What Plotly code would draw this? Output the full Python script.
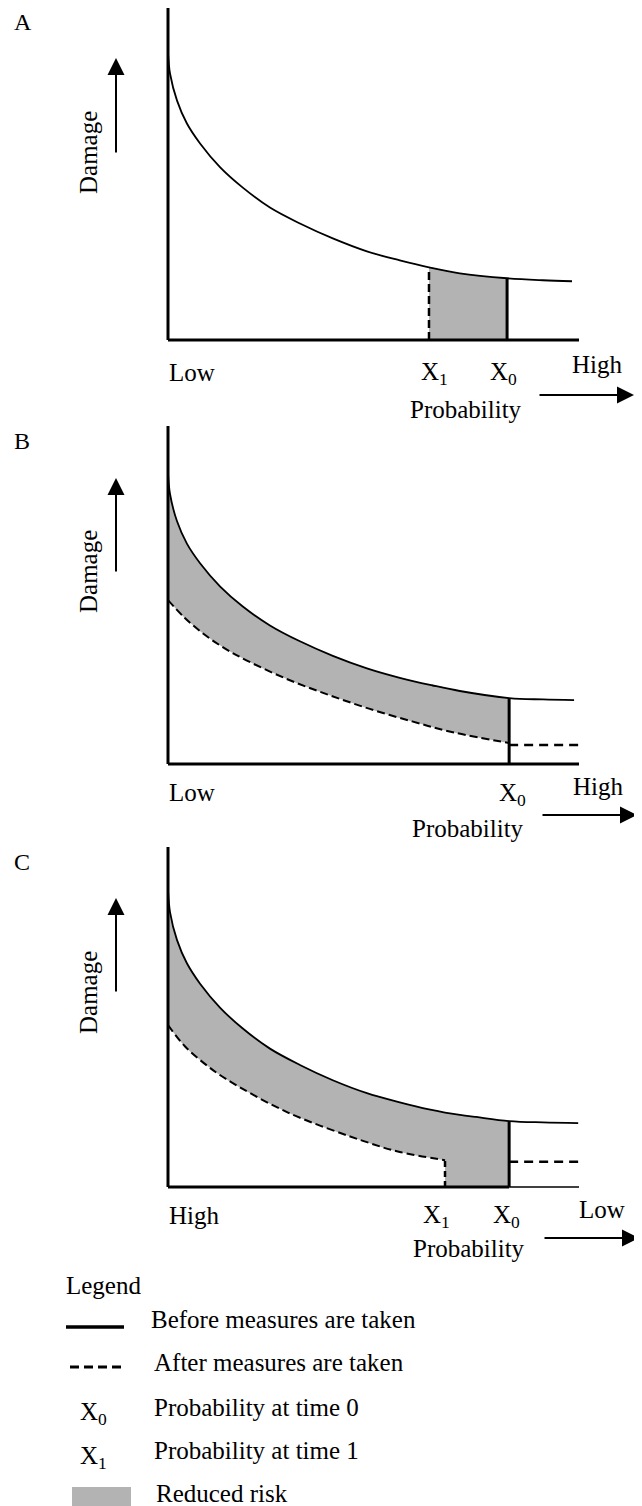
import plotly.graph_objects as go

# page body has an 8px margin, so the figure is drawn 8px smaller and shifted
OFF = 8
W, H = 642 - OFF, 1506 - OFF
FONT = "Liberation Serif"
FS = 25
GRAY = "#b3b3b3"

# ---------------- data (schematic units: x 0..100, y 0..100) ----------------
# Panel A
a_x = [0, 0.5, 2.2, 4.6, 7.8, 12.7, 18.2, 24.8, 32.1, 40.1, 48.4, 56.4, 63.5, 71.0, 82.5, 91.2, 98.3]
a_before = [86.5, 80.2, 72.1, 65.2, 59.2, 52.0, 45.9, 39.9, 35.1, 30.6, 26.7, 24.0, 21.9, 20.1, 18.6, 18.0, 17.7]
a_x1 = 63.5
a_x0 = 82.5

# Panel B
b_before_x = [0, 0.5, 2.2, 4.6, 7.8, 12.7, 18.2, 24.8, 32.1, 40.1, 48.4, 56.4, 64.2, 71.0, 83.0, 91.2, 98.8]
b_before = [86.1, 79.8, 71.8, 65.2, 59.4, 52.5, 46.6, 41.0, 36.3, 32.0, 28.3, 25.5, 23.3, 21.6, 19.5, 19.1, 18.9]
b_after_x = [0, 4.1, 9.2, 14.1, 19.2, 29.2, 39.2, 49.1, 59.4, 69.3, 83.0]
b_after = [48.5, 43.2, 38.0, 34.0, 30.6, 25.0, 20.4, 16.3, 12.6, 9.4, 6.2]
b_x0 = 83.0
b_after_tail_x = [83.0, 99.8]
b_after_tail = [5.6, 5.6]

# Panel C
c_before_x = [0, 0.5, 2.2, 4.6, 7.8, 12.7, 18.2, 24.8, 32.1, 40.1, 48.4, 56.4, 63.5, 67.4, 75.0, 83.0, 91.2, 99.8]
c_before = [87.4, 80.8, 72.6, 65.8, 59.8, 52.7, 46.6, 40.7, 35.9, 31.4, 27.6, 24.9, 22.8, 21.9, 20.6, 19.4, 19.0, 18.8]
c_after_x = [0, 4.1, 9.2, 14.1, 29.2, 49.1, 56.4, 67.4]
c_after = [47.6, 41.4, 36.0, 31.8, 21.9, 12.9, 10.3, 7.9]
c_x1 = 67.4
c_x0 = 83.0
c_after_tail_x = [83.0, 99.8]
c_after_tail = [7.4, 7.4]

# axis end labels
a_labels = ["Low", "High"]
b_labels = ["Low", "High"]
c_labels = ["High", "Low"]


def pxx(x):
    return (x - OFF) / W


def pxy(y):
    return 1 - (y - OFF) / H


def val_at(xs, ys, xv):
    return ys[xs.index(xv)]


fig = go.Figure()

X_DOM = [pxx(168), pxx(579)]
Y_DOMS = {
    1: [pxy(340), pxy(7)],
    2: [pxy(764), pxy(426)],
    3: [pxy(1187), pxy(847)],
}

for i in (1, 2, 3):
    sfx = "" if i == 1 else str(i)
    fig.update_layout(**{
        "xaxis" + sfx: dict(domain=X_DOM, range=[0, 100], showgrid=False, zeroline=False,
                            showticklabels=False, ticks="", showline=False,
                            anchor="y" + sfx, fixedrange=True),
        "yaxis" + sfx: dict(domain=[max(0, Y_DOMS[i][0]), min(1, Y_DOMS[i][1])],
                            range=[0, 100], showgrid=False, zeroline=False,
                            showticklabels=False, ticks="", showline=False,
                            anchor="x" + sfx, fixedrange=True),
    })

SOLID = dict(color="black", width=1.8, shape="spline")
DASHC = dict(color="black", width=2, dash="8px,4px", shape="spline")


def add(tr, i):
    sfx = "" if i == 1 else str(i)
    tr.update(xaxis="x" + sfx, yaxis="y" + sfx, showlegend=False, hoverinfo="skip")
    fig.add_trace(tr)


# ---------------- Panel A ----------------
sel = [k for k, x in enumerate(a_x) if a_x1 <= x <= a_x0]
add(go.Scatter(x=[a_x[k] for k in sel], y=[a_before[k] for k in sel], mode="lines",
               line=dict(width=0, shape="spline"), fill="tozeroy", fillcolor=GRAY), 1)
add(go.Scatter(x=a_x, y=a_before, mode="lines", line=SOLID), 1)
add(go.Scatter(x=[a_x1, a_x1], y=[0, val_at(a_x, a_before, a_x1)], mode="lines",
               line=dict(color="black", width=2.5, dash="8px,4px")), 1)
add(go.Scatter(x=[a_x0, a_x0], y=[0, val_at(a_x, a_before, a_x0)], mode="lines",
               line=dict(color="black", width=3)), 1)

# ---------------- Panel B ----------------
sel_u = [k for k, x in enumerate(b_before_x) if x <= b_x0]
add(go.Scatter(x=[b_before_x[k] for k in sel_u], y=[b_before[k] for k in sel_u], mode="lines",
               line=dict(width=0, shape="spline")), 2)
add(go.Scatter(x=b_after_x, y=b_after, mode="lines", line=dict(width=0, shape="spline"),
               fill="tonexty", fillcolor=GRAY), 2)
add(go.Scatter(x=b_before_x, y=b_before, mode="lines", line=SOLID), 2)
add(go.Scatter(x=b_after_x, y=b_after, mode="lines", line=DASHC), 2)
add(go.Scatter(x=b_after_tail_x, y=b_after_tail, mode="lines",
               line=dict(color="black", width=2.5, dash="9px,6px")), 2)
add(go.Scatter(x=[b_x0, b_x0], y=[0, val_at(b_before_x, b_before, b_x0)], mode="lines",
               line=dict(color="black", width=3)), 2)

# ---------------- Panel C ----------------
sel_u = [k for k, x in enumerate(c_before_x) if x <= c_x1]
add(go.Scatter(x=[c_before_x[k] for k in sel_u], y=[c_before[k] for k in sel_u], mode="lines",
               line=dict(width=0, shape="spline")), 3)
add(go.Scatter(x=c_after_x, y=c_after, mode="lines", line=dict(width=0, shape="spline"),
               fill="tonexty", fillcolor=GRAY), 3)
sel2 = [k for k, x in enumerate(c_before_x) if c_x1 <= x <= c_x0]
add(go.Scatter(x=[c_before_x[k] for k in sel2], y=[c_before[k] for k in sel2], mode="lines",
               line=dict(width=0, shape="spline"), fill="tozeroy", fillcolor=GRAY), 3)
add(go.Scatter(x=c_before_x, y=c_before, mode="lines", line=SOLID), 3)
add(go.Scatter(x=c_after_x, y=c_after, mode="lines", line=DASHC), 3)
add(go.Scatter(x=[c_x1, c_x1], y=[0, val_at(c_after_x, c_after, c_x1)], mode="lines",
               line=dict(color="black", width=2.5, dash="6px,4px")), 3)
add(go.Scatter(x=c_after_tail_x, y=c_after_tail, mode="lines",
               line=dict(color="black", width=2.5, dash="9px,6px")), 3)
add(go.Scatter(x=[c_x0, c_x0], y=[0, val_at(c_before_x, c_before, c_x0)], mode="lines",
               line=dict(color="black", width=3)), 3)

# ---------------- axis lines (shapes) ----------------
shapes = []
for i in (1, 2, 3):
    sfx = "" if i == 1 else str(i)
    shapes.append(dict(type="line", xref="x%s domain" % sfx, yref="y%s domain" % sfx,
                       x0=0, x1=0, y0=0, y1=1, line=dict(color="black", width=3)))
    if i < 3:
        shapes.append(dict(type="line", xref="x%s domain" % sfx, yref="y%s domain" % sfx,
                           x0=0, x1=1, y0=0, y1=0, line=dict(color="black", width=3)))
shapes.append(dict(type="line", xref="x3", yref="y3 domain", x0=0, x1=c_x0, y0=0, y1=0,
                   line=dict(color="black", width=3)))
shapes.append(dict(type="line", xref="x3", yref="y3 domain", x0=c_x0, x1=100, y0=0, y1=0,
                   line=dict(color="black", width=1.5)))

# legend samples
shapes.append(dict(type="line", xref="paper", yref="paper", x0=pxx(66), x1=pxx(124),
                   y0=pxy(1327), y1=pxy(1327), line=dict(color="black", width=3.5)))
shapes.append(dict(type="line", xref="paper", yref="paper", x0=pxx(70), x1=pxx(124),
                   y0=pxy(1367), y1=pxy(1367), line=dict(color="black", width=3, dash="9px,5px")))
shapes.append(dict(type="rect", xref="paper", yref="paper", x0=pxx(72), x1=pxx(131),
                   y0=0, y1=pxy(1487), fillcolor=GRAY, line=dict(width=0)))

# ---------------- text ----------------
ann = []


def txt(s, x, y, xa="center", ya="middle", size=FS, angle=0):
    ann.append(dict(text=s, x=pxx(x), y=pxy(y), xref="paper", yref="paper",
                    xanchor=xa, yanchor=ya, showarrow=False, textangle=angle,
                    font=dict(family=FONT, size=size, color="black")))


def arrow(hx, hy, dx, dy):
    ann.append(dict(text="", x=pxx(hx), y=pxy(hy), xref="paper", yref="paper",
                    ax=dx, ay=dy, axref="pixel", ayref="pixel", showarrow=True,
                    arrowhead=2, arrowsize=1.7, arrowwidth=2, arrowcolor="black"))


X1 = "X<sub>1</sub>"
X0 = "X<sub>0</sub>"

# Panel A
txt("A", 12, 22, xa="left", size=24)
txt("Damage", 88, 153, angle=-90)
arrow(116, 58, 0, 96)
txt(a_labels[0], 167, 372, xa="left")
txt(X1, 434, 373)
txt(X0, 503, 373)
txt(a_labels[1], 597, 365)
txt("Probability", 466, 409)
arrow(634, 395, -96, 0)

# Panel B
txt("B", 12, 441, xa="left", size=24)
txt("Damage", 88, 572, angle=-90)
arrow(116, 478, 0, 95)
txt(b_labels[0], 167, 793, xa="left")
txt(X0, 512, 794)
txt(b_labels[1], 598, 786)
txt("Probability", 468, 828)
arrow(637, 815, -96, 0)

# Panel C
txt("C", 12, 862, xa="left", size=24)
txt("Damage", 88, 993, angle=-90)
arrow(116, 898, 0, 95)
txt(c_labels[0], 167, 1215, xa="left")
txt(X1, 436, 1216)
txt(X0, 506, 1216)
txt(c_labels[1], 602, 1209)
txt("Probability", 469, 1248)
arrow(639, 1238, -96, 0)

# Legend
txt("Legend", 64, 1285, xa="left")
txt("Before measures are taken", 149, 1319, xa="left")
txt("After measures are taken", 152, 1362, xa="left")
txt(X0, 93, 1413)
txt("Probability at time 0", 152, 1407, xa="left")
txt(X1, 93, 1457)
txt("Probability at time 1", 152, 1450, xa="left")
txt("Reduced risk", 154, 1493, xa="left")

fig.update_layout(width=W, height=H, margin=dict(l=0, r=0, t=0, b=0),
                  paper_bgcolor="white", plot_bgcolor="white",
                  shapes=shapes, annotations=ann, showlegend=False)

fig.write_html("out.html", config={"displayModeBar": False})
